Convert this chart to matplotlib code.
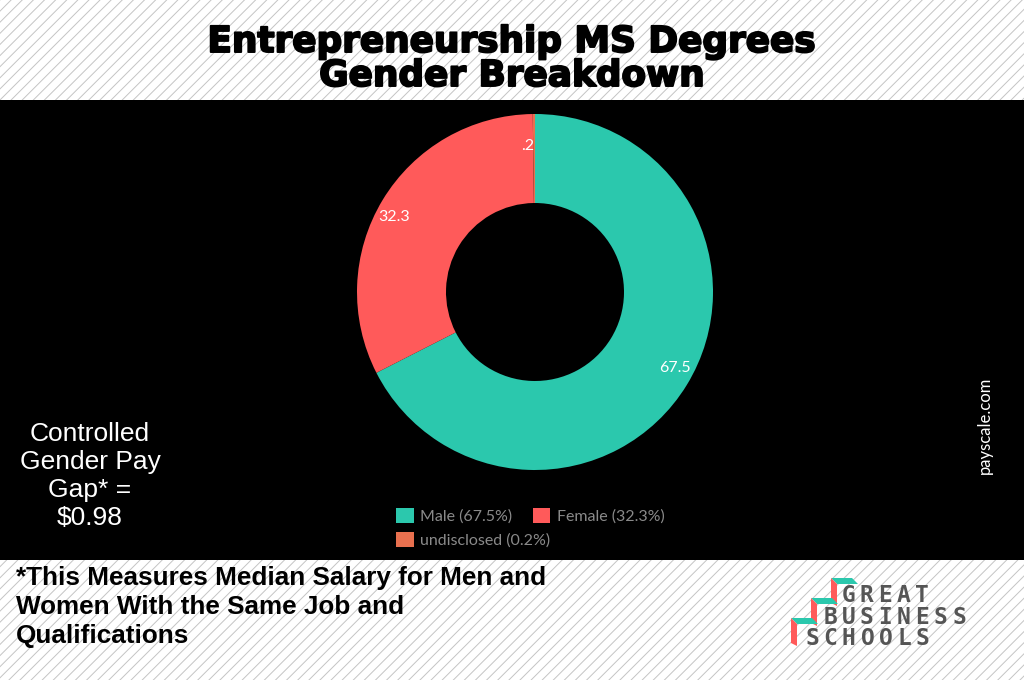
import matplotlib
matplotlib.use('Agg')
import matplotlib.pyplot as plt
import matplotlib.patheffects as pe
from matplotlib.patches import Rectangle, Polygon, Patch

# data
labels = ['Male', 'Female', 'undisclosed']
values = [67.5, 32.3, 0.2]
value_text = ['67.5', '32.3', '.2']
colors = ['#2BC8AD', '#FF5A5A', '#E8704F']

title = 'Entrepreneurship MS Degrees\nGender Breakdown'
gap_text = 'Controlled\nGender Pay\nGap* =\n\\$0.98'
foot_text = '*This Measures Median Salary for Men and\nWomen With the Same Job and\nQualifications'
logo_lines = ['GREAT', 'BUSINESS', 'SCHOOLS']
logo_indent = [2, 1, 0]

W, H = 1024, 680
plt.rcParams['hatch.linewidth'] = 0.7
plt.rcParams['mathtext.fontset'] = 'custom'
plt.rcParams['mathtext.rm'] = 'DejaVu Sans Mono:bold'
plt.rcParams['mathtext.default'] = 'rm'
fig = plt.figure(figsize=(W / 100, H / 100), dpi=100)

# full-figure overlay in pixel coords (y down)
bg = fig.add_axes([0, 0, 1, 1])
bg.set_xlim(0, W)
bg.set_ylim(H, 0)
bg.axis('off')
bg.add_patch(Rectangle((0, 0), W, H, facecolor='white', edgecolor='#c4c4c4',
                       hatch='///', lw=0, zorder=0))
bg.add_patch(Rectangle((0, 100), W, 460, facecolor='black', lw=0, zorder=1))

bg.text(512, 59, title, ha='center', va='center', fontsize=25.8, fontweight='bold',
        family='DejaVu Sans', linespacing=1.0, color='black', zorder=3,
        path_effects=[pe.withStroke(linewidth=1.4, foreground='black')])
bg.text(90, 476, gap_text, ha='center', va='center', fontsize=19, color='white',
        family='Liberation Sans', linespacing=1.2, zorder=3)
bg.text(16, 607, foot_text, ha='left', va='center', fontsize=18.8, fontweight='bold',
        family='Liberation Sans', linespacing=1.27, color='black', zorder=3)
bg.text(985, 425, 'payscale.com', rotation=90, ha='center', va='center', fontsize=12,
        color='white', family='Lato', zorder=3)

# logo: staircase + letter-spaced block
for x0, y0 in [(831, 578), (811, 598), (791, 618)]:
    bg.add_patch(Polygon([(x0, y0), (x0 + 21, y0), (x0 + 27, y0 + 6), (x0 + 6, y0 + 6)],
                         closed=True, facecolor='#2BC8AD', lw=0, zorder=3))
    bg.add_patch(Polygon([(x0, y0), (x0 + 6, y0 + 6), (x0 + 6, y0 + 28), (x0, y0 + 25)],
                         closed=True, facecolor='#FF5A5A', lw=0, zorder=3))
gap = r'\hspace{0.21}'
rows = []
for s, n in zip(logo_lines, logo_indent):
    lead = r'\hspace{%.2f}' % (0.81 * n) if n else ''
    rows.append('$' + lead + gap.join(s) + '$')
bg.text(805, 617, '\n'.join(rows), ha='left', va='center', fontsize=16.5,
        linespacing=0.92, color='#555555', zorder=3)

# donut
cx, cy, r = 535, 292, 178
ax = fig.add_axes([(cx - r) / W, (H - cy - r) / H, 2 * r / W, 2 * r / H])
wedges, texts = ax.pie(values, colors=colors, startangle=90, counterclock=False,
                       labels=value_text, labeldistance=0.82,
                       wedgeprops=dict(width=0.5, linewidth=0),
                       textprops=dict(color='white', fontsize=11.5, family='Lato'))
ax.set_xlim(-1, 1)
ax.set_ylim(-1, 1)
ax.set_aspect('equal')
ax.axis('off')

# legend
handles = [Patch(facecolor=c, edgecolor='none') for c in colors]
leg_txt = ['%s (%.1f%%)' % (l, v) for l, v in zip(labels, values)]
common = dict(frameon=False, handlelength=1.1, handleheight=1.1, handletextpad=0.4,
              columnspacing=1.3, borderaxespad=0, borderpad=0,
              prop=dict(family='Lato', size=11.5), labelcolor='#8a8a8a')
fig.legend(handles[:2], leg_txt[:2], ncol=2, loc='center left',
           bbox_to_anchor=(396 / W, 1 - 516 / H), **common)
fig.legend(handles[2:], leg_txt[2:], loc='center left',
           bbox_to_anchor=(396 / W, 1 - 540 / H), **common)

fig.savefig('out.png', dpi=100)
